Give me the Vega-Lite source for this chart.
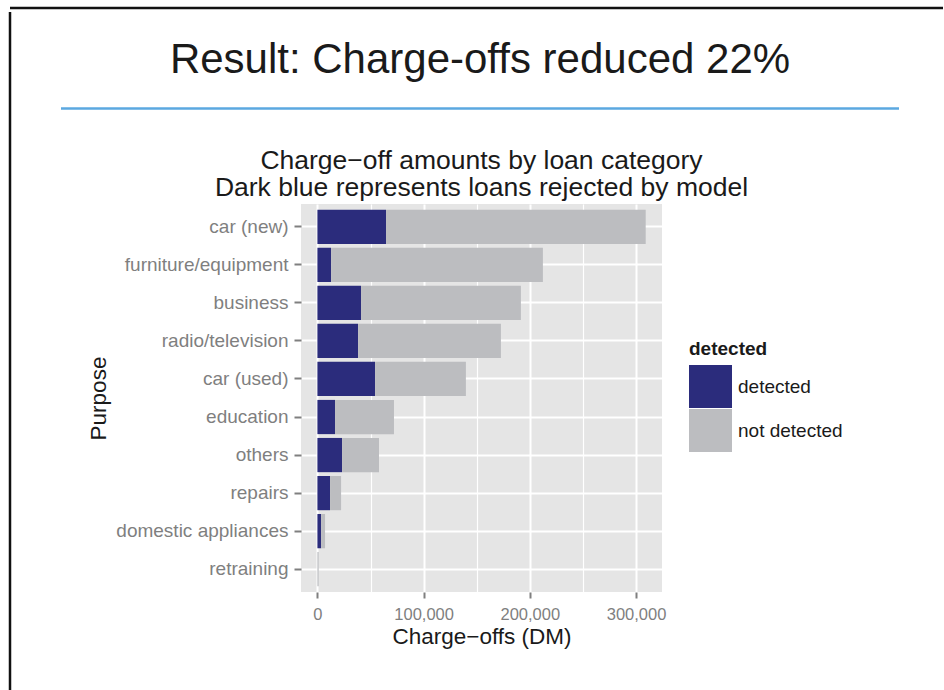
{
  "$schema": "https://vega.github.io/schema/vega-lite/v6.json",
  "background": "white",
  "padding": {"left": 8, "top": 6, "right": 0, "bottom": 0},
  "config": {
    "view": {"stroke": null},
    "font": "Liberation Sans",
    "concat": {"spacing": 0}
  },
  "spacing": 0,
  "resolve": {"scale": {"color": "independent"}, "legend": {"color": "independent"}},
  "vconcat": [
    {
      "width": 933,
      "height": 1,
      "data": {"values": [{}]},
      "mark": {"type": "rule", "color": "#111111", "strokeWidth": 2.5},
      "encoding": {"y": {"datum": 0, "scale": {"domain": [0, 1]}, "axis": null}}
    },
    {
      "spacing": 47,
      "resolve": {"scale": {"color": "independent"}, "legend": {"color": "independent"}},
      "hconcat": [
        {
          "width": 1,
          "height": 679,
          "data": {"values": [{}]},
          "mark": {"type": "rule", "color": "#111111", "strokeWidth": 2.5},
          "encoding": {"x": {"datum": 0, "scale": {"domain": [0, 1]}, "axis": null}}
        },
        {
          "spacing": 38,
          "resolve": {"scale": {"color": "independent"}, "legend": {"color": "independent"}},
          "vconcat": [
            {
              "width": 838,
              "height": 96.5,
              "data": {"values": [{"headline": "Result: Charge-offs reduced 22%"}]},
              "layer": [
                {
                  "mark": {"type": "text", "fontSize": 42, "color": "#1a1a1a", "font": "Liberation Sans"},
                  "encoding": {"text": {"field": "headline", "type": "nominal"}}
                },
                {
                  "mark": {"type": "rule", "color": "#5BA8E0", "strokeWidth": 2.5},
                  "encoding": {"y": {"datum": 0, "scale": {"domain": [0, 1]}, "axis": null}}
                }
              ]
            },
            {
              "spacing": 0,
              "resolve": {"scale": {"color": "independent"}, "legend": {"color": "independent"}},
              "hconcat": [
                {
                  "width": 26,
                  "height": 1,
                  "data": {"values": [{}]},
                  "mark": {"type": "point", "size": 0, "opacity": 0},
                  "encoding": {}
                },
                {
                  "width": 361,
                  "height": 388,
                  "view": {"fill": "#E5E5E5", "stroke": null},
                  "title": {
                    "text": ["Charge−off amounts by loan category", "Dark blue represents loans rejected by model"],
                    "fontSize": 26.5,
                    "fontWeight": "normal",
                    "color": "#1a1a1a",
                    "anchor": "middle",
                    "frame": "group",
                    "lineHeight": 27,
                    "offset": 2.5
                  },
                  "data": {
                    "values": [
                      {"purpose": "car (new)", "status": "detected", "amount": 64600},
                      {"purpose": "car (new)", "status": "not detected", "amount": 244500},
                      {"purpose": "furniture/equipment", "status": "detected", "amount": 12900},
                      {"purpose": "furniture/equipment", "status": "not detected", "amount": 199400},
                      {"purpose": "business", "status": "detected", "amount": 41100},
                      {"purpose": "business", "status": "not detected", "amount": 150500},
                      {"purpose": "radio/television", "status": "detected", "amount": 38300},
                      {"purpose": "radio/television", "status": "not detected", "amount": 134500},
                      {"purpose": "car (used)", "status": "detected", "amount": 54300},
                      {"purpose": "car (used)", "status": "not detected", "amount": 85500},
                      {"purpose": "education", "status": "detected", "amount": 16600},
                      {"purpose": "education", "status": "not detected", "amount": 55500},
                      {"purpose": "others", "status": "detected", "amount": 23200},
                      {"purpose": "others", "status": "not detected", "amount": 34800},
                      {"purpose": "repairs", "status": "detected", "amount": 11900},
                      {"purpose": "repairs", "status": "not detected", "amount": 10400},
                      {"purpose": "domestic appliances", "status": "detected", "amount": 3500},
                      {"purpose": "domestic appliances", "status": "not detected", "amount": 3700},
                      {"purpose": "retraining", "status": "detected", "amount": 0},
                      {"purpose": "retraining", "status": "not detected", "amount": 1200}
                    ]
                  },
                  "mark": {"type": "bar"},
                  "encoding": {
                    "y": {
                      "field": "purpose",
                      "type": "nominal",
                      "sort": ["car (new)", "furniture/equipment", "business", "radio/television", "car (used)", "education", "others", "repairs", "domestic appliances", "retraining"],
                      "scale": {"paddingInner": 0.1, "paddingOuter": 0.15},
                      "title": "Purpose",
                      "axis": {
                        "titleFontSize": 22.5,
                        "titleFontWeight": "normal",
                        "titleColor": "#1a1a1a",
                        "titlePadding": 5,
                        "labelFontSize": 19,
                        "labelColor": "#7F7F7F",
                        "labelPadding": 6,
                        "tickSize": 7,
                        "tickWidth": 2,
                        "tickColor": "#7F7F7F",
                        "domain": false,
                        "grid": true,
                        "gridColor": "white",
                        "gridWidth": 2,
                        "bandPosition": 0.5
                      }
                    },
                    "x": {
                      "field": "amount",
                      "type": "quantitative",
                      "stack": "zero",
                      "scale": {"domain": [-15450, 324450], "nice": false, "zero": false},
                      "title": "Charge−offs (DM)",
                      "axis": {
                        "values": [0, 50000, 100000, 150000, 200000, 250000, 300000],
                        "labelExpr": "datum.value % 100000 === 0 ? format(datum.value, ',') : ''",
                        "labelFontSize": 16.5,
                        "labelColor": "#7F7F7F",
                        "labelPadding": 8,
                        "labelFlush": false,
                        "labelOverlap": false,
                        "tickSize": 6,
                        "tickWidth": 2,
                        "tickColor": "#7F7F7F",
                        "tickOpacity": {"condition": {"test": "datum.value % 100000 === 0", "value": 1}, "value": 0},
                        "grid": true,
                        "gridColor": "white",
                        "gridWidth": {"condition": {"test": "datum.value % 100000 === 0", "value": 2}, "value": 1.2},
                        "domain": false,
                        "titleFontSize": 22.5,
                        "titleFontWeight": "normal",
                        "titleColor": "#1a1a1a",
                        "titlePadding": 3
                      }
                    },
                    "color": {
                      "field": "status",
                      "type": "nominal",
                      "scale": {"domain": ["detected", "not detected"], "range": ["#2B2C7C", "#BCBDC0"]},
                      "title": "detected",
                      "legend": {
                        "orient": "none",
                        "legendX": 388,
                        "legendY": 136,
                        "padding": 0,
                        "titleFontSize": 19,
                        "titleFontWeight": "bold",
                        "titleColor": "#1a1a1a",
                        "titlePadding": 6,
                        "labelFontSize": 19,
                        "labelColor": "#1a1a1a",
                        "labelOffset": 6,
                        "symbolType": "square",
                        "symbolSize": 1849,
                        "symbolStrokeWidth": 0,
                        "symbolOpacity": 1,
                        "rowPadding": 1
                      }
                    },
                    "order": {"field": "status", "sort": "ascending"}
                  }
                }
              ]
            }
          ]
        }
      ]
    }
  ]
}
